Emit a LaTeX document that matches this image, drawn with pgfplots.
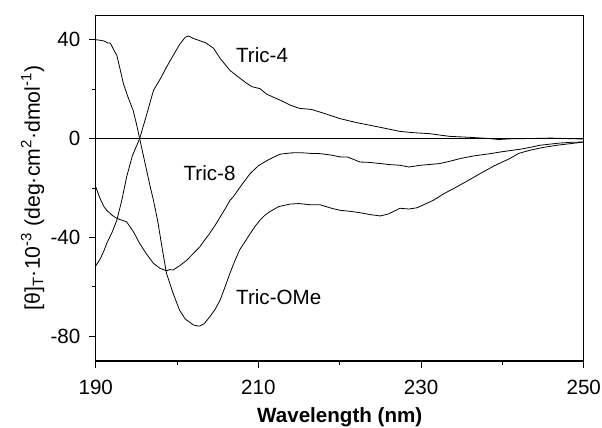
\documentclass[border=0pt]{standalone}
\usepackage{fontspec}
\setmainfont{Liberation Sans}
\usepackage{pgfplots}
\pgfplotsset{compat=1.18}
\usetikzlibrary{calc}
\newcommand{\fs}{\fontsize{15.5}{18}\selectfont}
\begin{document}
\begin{tikzpicture}
\begin{axis}[
  name=ax,
  scale only axis,
  width=366bp, height=259.5bp,
  xmin=190, xmax=250, ymin=-90, ymax=50,
  xtick={190,210,230,250}, minor xtick={200,220,240},
  ytick={-80,-40,0,40}, minor ytick={-60,-20,20},
  xtick pos=bottom, ytick pos=left,
  tick align=outside,
  major tick length=5bp, minor tick length=3bp,
  every tick/.style={black, line width=0.6pt},
  axis line style={line width=0.7pt},
  tick label style={font=\fs},
  /pgf/number format/assume math mode=true,
  xticklabel style={yshift=-6bp},
  yticklabel style={xshift=-3bp},
  xlabel={\bfseries Wavelength (nm)},
  xlabel style={font=\fs, yshift=-3bp},
  ylabel={[θ]\textsubscript{T}·10\textsuperscript{-3} (deg·cm\textsuperscript{2}·dmol\textsuperscript{-1})},
  ylabel style={font=\fontsize{16}{18}\selectfont, yshift=-2bp},
  clip=false,
]
\draw[line width=1.2pt] (rel axis cs:0,0) -- (rel axis cs:1,0);
\draw[line width=1.3pt] (axis cs:190,0) -- (axis cs:250,0);
% Tric-4
\addplot[black, line width=0.6pt] coordinates {
(190,-51.5) (190.5,-49) (191,-45.5) (191.35,-42.4) (192,-38) (192.6,-33) (193.2,-25)
(193.8,-15.5) (194.5,-7) (195.4,0) (196.2,9) (197.1,19.5) (198,24.5) (198.7,28.9)
(199.5,33.5) (200.3,38) (201,41) (201.4,41.5) (202,40.5) (202.8,39.6) (203.5,38.8)
(204.5,36.5) (205.3,32.4) (206.5,27.6) (207.5,25) (208.5,22.5) (209.2,21) (210.2,20.2)
(211,18) (212.7,15.5) (214,13.4) (215.1,12.2) (216.5,11.8) (218,10.3) (220,8.1)
(222,6.5) (223.7,5.4) (225.5,4.2) (227.4,2.9) (229,2.4) (231,2.0) (233.5,0.9)
(236,0.5) (238.5,0) (239.5,-0.4) (241,-0.1) (243,0) (246,0.2) (248,0) (250,-0.2)
};
% Tric-OMe
\addplot[black, line width=0.6pt] coordinates {
(190,40) (190.5,39.8) (191,39.5) (191.5,38.7) (191.8,38.6) (192.2,36) (192.6,33.6)
(193,28) (193.4,22.2) (194,16.5) (194.6,11.4) (195,6) (195.4,0) (196,-9) (196.7,-19.5)
(197.1,-25) (197.6,-33) (198.2,-45) (198.7,-54.5) (199.5,-62.5) (200.3,-69.4) (201,-73)
(202,-75.4) (202.5,-75.8) (202.8,-75.8) (203.3,-75) (204.05,-72) (204.7,-69) (205.3,-65.3)
(205.9,-60) (206.5,-54.5) (207.1,-49.5) (207.7,-45) (208.4,-41.5) (209,-38.4) (209.6,-35.5)
(210.2,-33) (210.8,-31) (211.4,-29.6) (212.5,-27.5) (213.9,-26.5) (215,-26.3) (216.5,-26.8)
(217.6,-26.8) (219,-28.2) (220,-29) (221.2,-29.4) (222.5,-30) (223.8,-30.8) (225,-31.3)
(226,-30.5) (227.4,-28.2) (228.5,-28.5) (229.5,-28) (230.5,-26.5) (231.5,-25) (232.7,-22.5)
(234,-20.2) (235.5,-17.5) (237.3,-14.1) (239,-11) (240.9,-8.1) (242,-6) (243.4,-4.7)
(245,-3.6) (246.7,-2.7) (248.5,-2.0) (250,-1.4)
};
% Tric-8
\addplot[black, line width=0.6pt] coordinates {
(190,-19.5) (190.5,-24) (191,-27.5) (191.35,-29) (192,-31) (192.6,-32.3) (193.2,-33)
(193.8,-33.7) (194.6,-37.5) (195.4,-42.4) (196.2,-46.5) (197.1,-50.5) (197.9,-52.5)
(198.7,-53.5) (199.1,-53) (199.5,-53.2) (200.3,-51.5) (201.2,-49.2) (202,-46.5)
(202.8,-43.8) (203.4,-41) (204,-38.4) (204.7,-35) (205.3,-31.7) (205.9,-28.5) (206.5,-25)
(206.9,-23.6) (208,-18.5) (209,-14.1) (210,-11) (211.1,-8.8) (212,-7.3) (212.7,-6.3)
(214,-5.8) (215.1,-5.7) (216.5,-6) (217.6,-6.1) (219,-6.7) (220,-7.4) (221,-7.5)
(222.5,-9.5) (223.5,-9.6) (225,-10.1) (226,-10.5) (227.4,-10.8) (228.5,-11.5) (229.9,-10.8)
(231,-10.5) (232.3,-10.1) (233.5,-9.2) (234.8,-8.1) (236.5,-7) (238.5,-6.1) (240,-5.3)
(242.2,-4.3) (243.5,-3.5) (244.6,-2.7) (246,-2.2) (247.1,-1.8) (248.5,-1.5) (250,-1.4)
};
\node[font=\fs] at (axis cs:210.45,33.7) {Tric-4};
\node[font=\fs] at (axis cs:204,-14.1) {Tric-8};
\node[font=\fs] at (axis cs:212.5,-64.1) {Tric-OMe};
\end{axis}
\pgfresetboundingbox
\useasboundingbox ($(ax.south west)+(-71.8bp,-49.5bp)$) rectangle ($(ax.north east)+(13.7bp,11.25bp)$);
\end{tikzpicture}
\end{document}
